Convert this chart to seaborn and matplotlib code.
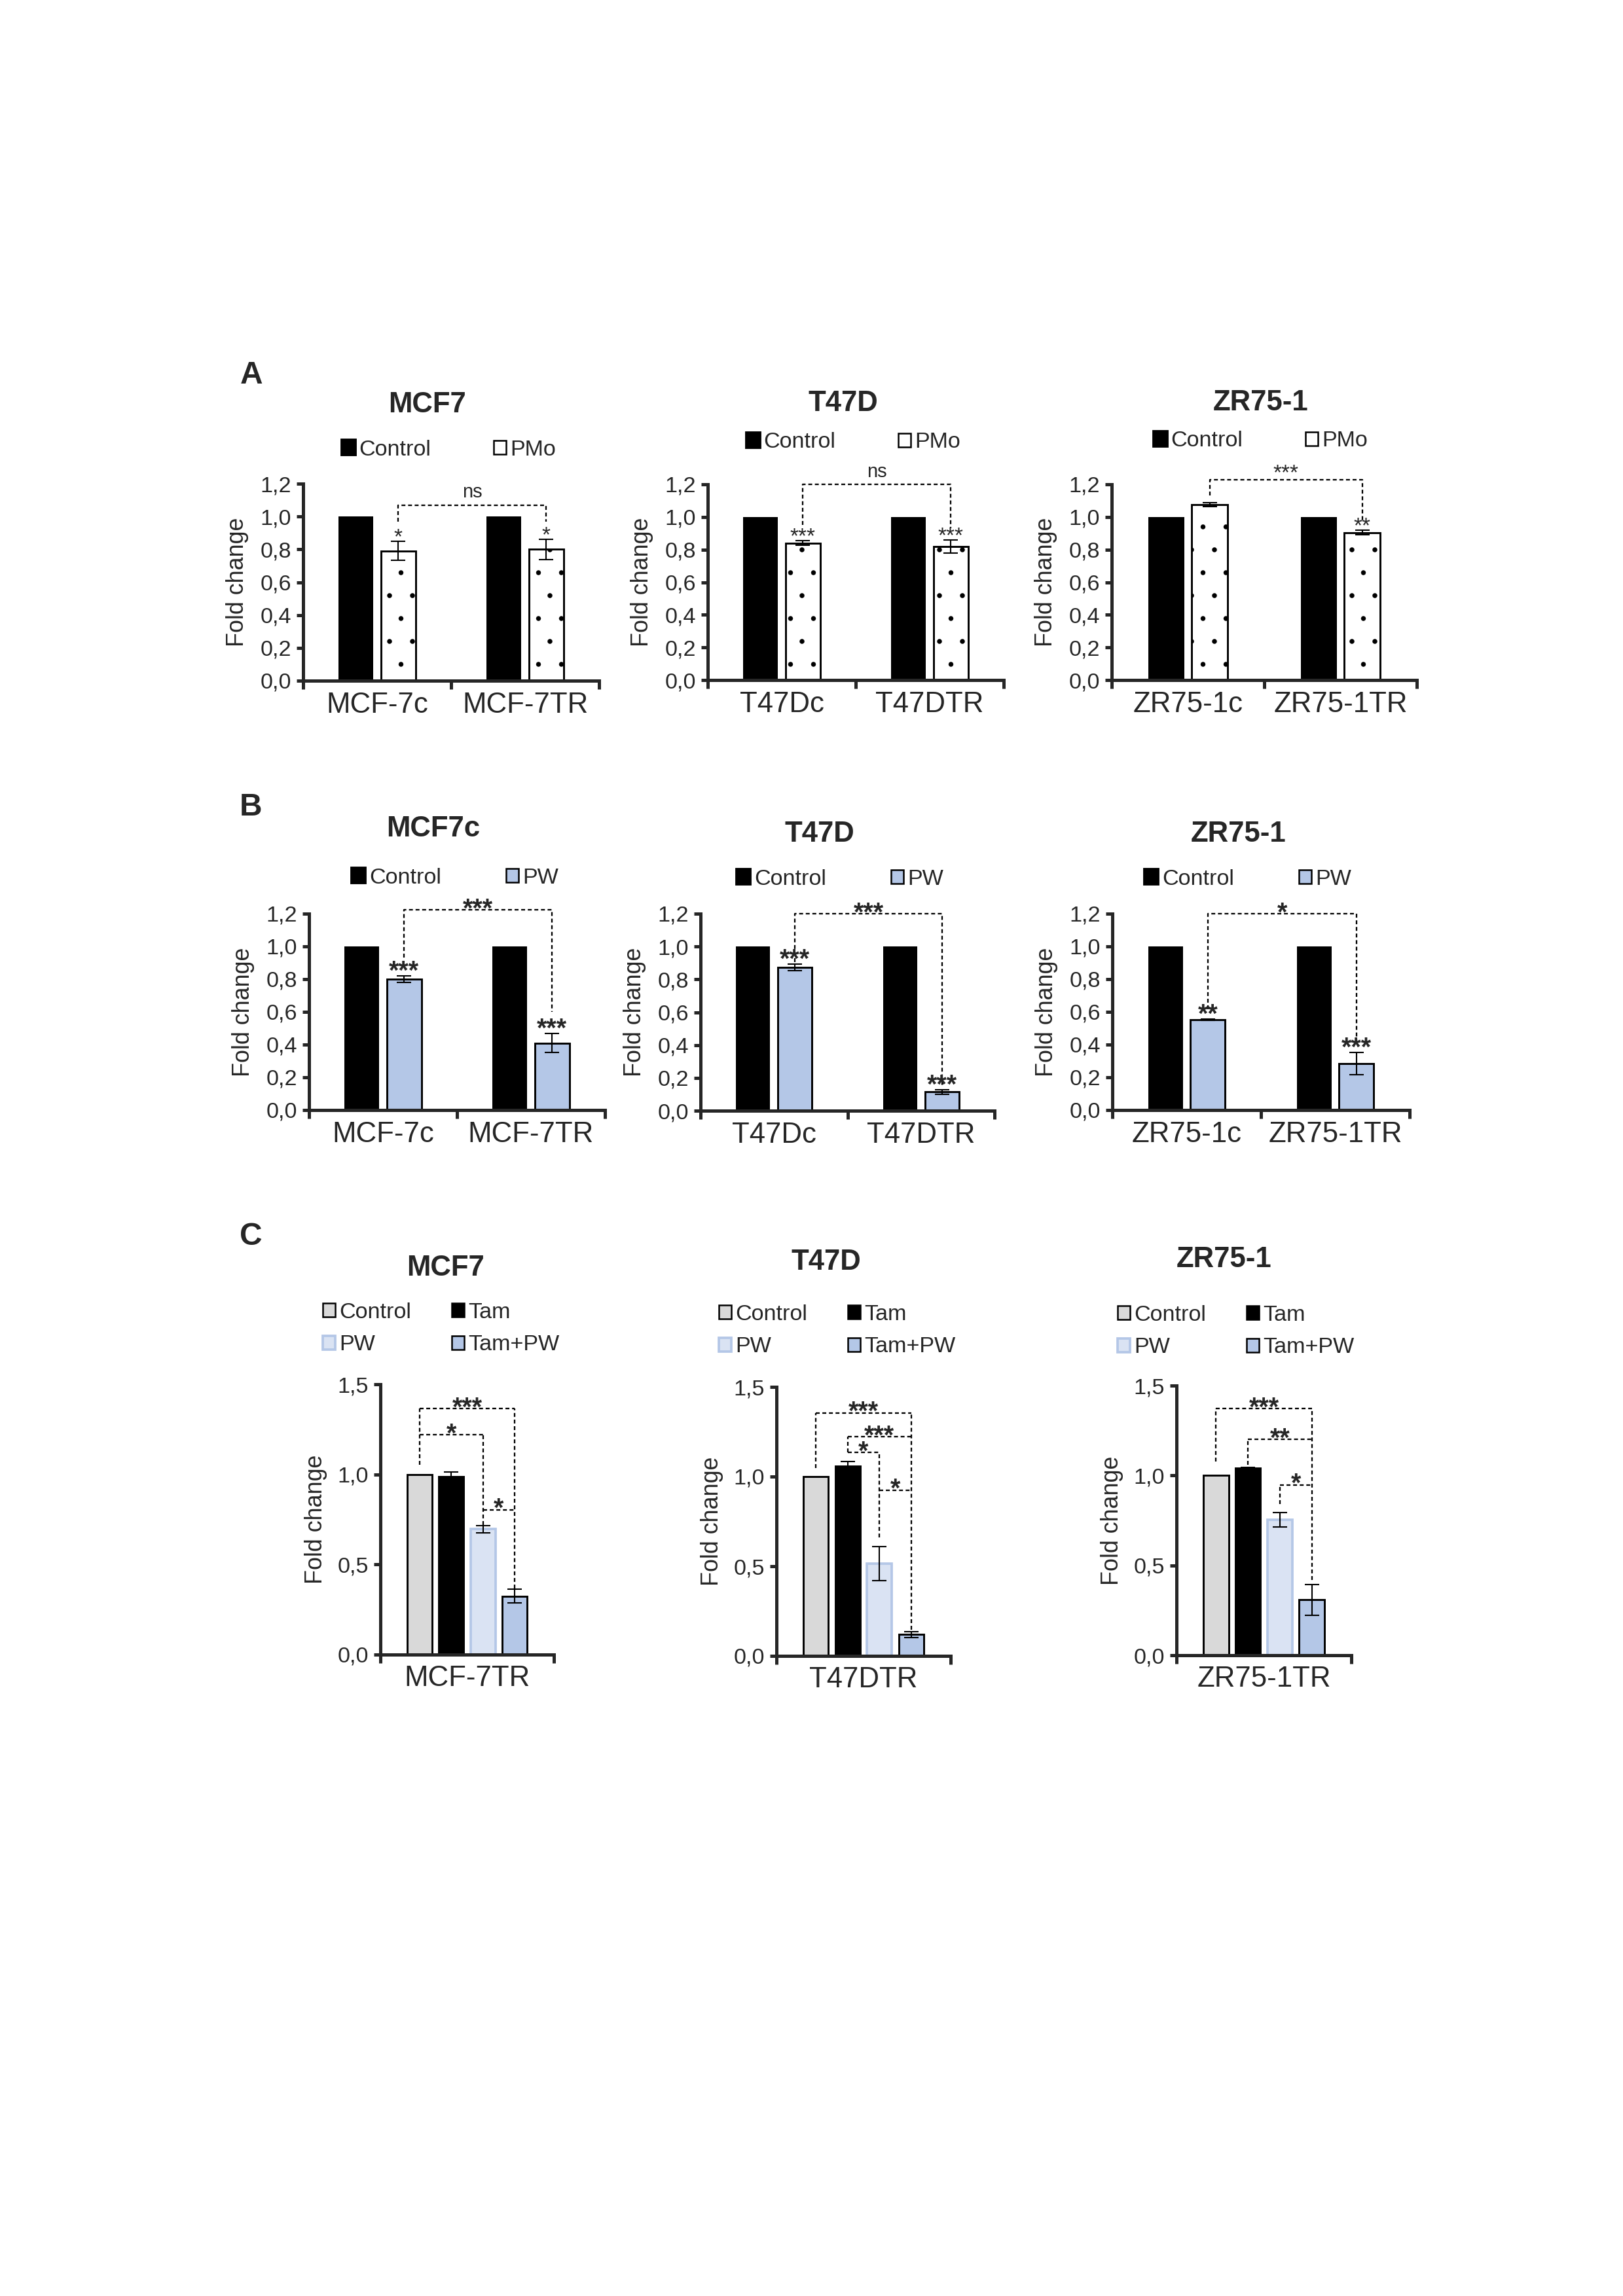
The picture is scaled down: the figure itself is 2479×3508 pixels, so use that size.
import numpy as np
import pandas as pd
import matplotlib
matplotlib.use("Agg")
import matplotlib.pyplot as plt
from matplotlib.patches import Patch
import seaborn as sns

# taille de la page en pixels ; dpi eleve pour un motif de points plus large
W, H = 2479, 3508
DPI = 420
S = 300 / DPI          # toutes les tailles sont donnees "a 300 dpi"


def P(v):
    return v * S


# ---- Panel A : Control vs PMo ----
A_titles = ["MCF7", "T47D", "ZR75-1"]
A_cells = [["MCF-7c", "MCF-7TR"], ["T47Dc", "T47DTR"], ["ZR75-1c", "ZR75-1TR"]]
A_control = [[1.0, 1.0], [1.0, 1.0], [1.0, 1.0]]
A_pmo = [[0.79, 0.80], [0.84, 0.82], [1.075, 0.905]]
A_pmo_err = [[0.058, 0.061], [0.014, 0.04], [0.012, 0.016]]
A_stars = [["*", "*"], ["***", "***"], ["", "**"]]
A_bracket_label = ["ns", "ns", "***"]
A_bracket_y = [1.07, 1.20, 1.23]
A_bracket_legs = [[0.97, 0.97], [0.95, 0.93], [1.13, 0.97]]

# ---- Panel B : Control vs PW ----
B_titles = ["MCF7c", "T47D", "ZR75-1"]
B_cells = [["MCF-7c", "MCF-7TR"], ["T47Dc", "T47DTR"], ["ZR75-1c", "ZR75-1TR"]]
B_control = [[1.0, 1.0], [1.0, 1.0], [1.0, 1.0]]
B_pw = [[0.80, 0.41], [0.872, 0.114], [0.553, 0.284]]
B_pw_err = [[0.02, 0.058], [0.02, 0.014], [0.005, 0.068]]
B_stars = [["***", "***"], ["***", "***"], ["**", "***"]]
B_bracket_label = ["***", "***", "*"]
B_bracket_y = [1.224, 1.20, 1.20]
B_bracket_legs = [[0.934, 0.60], [0.905, 0.15], [0.616, 0.40]]

# ---- Panel C : Control / Tam / PW / Tam+PW ----
C_titles = ["MCF7", "T47D", "ZR75-1"]
C_cells = ["MCF-7TR", "T47DTR", "ZR75-1TR"]
C_groups = ["Control", "Tam", "PW", "Tam+PW"]
C_means = [[1.0, 0.987, 0.696, 0.325],
           [1.0, 1.058, 0.515, 0.12],
           [1.0, 1.041, 0.755, 0.309]]
C_err = [[0.0, 0.027, 0.02, 0.038],
         [0.0, 0.027, 0.095, 0.016],
         [0.0, 0.005, 0.04, 0.086]]
# (barre gauche, barre droite, hauteur, texte)
C_brackets = [[(0, 3, 1.364, "***"), (0, 2, 1.22, "*"), (2, 3, 0.804, "*")],
              [(0, 3, 1.355, "***"), (1, 3, 1.222, "***"), (1, 2, 1.134, "*"), (2, 3, 0.925, "*")],
              [(0, 3, 1.373, "***"), (1, 3, 1.20, "**"), (2, 3, 0.948, "*")]]
C_legs = [[1.054, np.nan, 0.72, 0.367],
          [1.049, 1.134, 0.66, 0.147],
          [1.076, 1.06, 0.84, 0.42]]

# ---- mise en page (pixels de la page) ----
A_boxes = [(463, 739, 915, 1040), (1081, 740, 1533, 1039), (1698, 740, 2164, 1039)]
A_title_pos = [(652, 618), (1288, 617), (1926, 615)]
A_leg_pos = [(686, 687), (1304, 676), (1926, 674)]
B_boxes = [(472, 1396, 924, 1696), (1070, 1396, 1519, 1697), (1699, 1396, 2153, 1696)]
B_title_pos = [(662, 1266), (1252, 1275), (1892, 1274)]
B_leg_pos = [(696, 1341), (1284, 1343), (1907, 1343)]
C_boxes = [(581, 2115, 846, 2528), (1186, 2119, 1452, 2530), (1797, 2117, 2064, 2529)]
C_title_pos = [(681, 1937), (1262, 1928), (1870, 1925)]
C_leg_pos = [(674, 2030), (1279, 2033), (1888, 2034)]
letters = [("A", 384, 574), ("B", 383, 1234), ("C", 383, 1890)]

PW_BLUE = "#B4C7E7"
PW_LIGHT = "#DAE3F3"
CTRL_GRAY = "#D9D9D9"
DASH = (0, (2.6, 1.8))

sns.set_style("ticks")
plt.rcParams["font.family"] = ["Liberation Sans", "DejaVu Sans"]
plt.rcParams["hatch.linewidth"] = P(0.1)

fig = plt.figure(figsize=(W / DPI, H / DPI), dpi=DPI)


def fpos(x, y):
    return x / W, 1 - y / H


def make_axes(b):
    x0, y0, x1, y1 = b
    return fig.add_axes([x0 / W, 1 - y1 / H, (x1 - x0) / W, (y1 - y0) / H])


def style_axes(ax, ymax, step, tick_size, lab_pad, ytick_len):
    sns.despine(ax=ax)
    for s in ["left", "bottom"]:
        ax.spines[s].set_linewidth(P(1.2))
    ticks = np.round(np.arange(0, ymax + 1e-9, step), 2)
    ax.set_ylim(0, ymax)
    ax.set_yticks(ticks)
    ax.set_yticklabels([f"{t:.1f}".replace(".", ",") for t in ticks],
                       fontsize=P(tick_size))
    ax.tick_params(axis="y", length=P(ytick_len), width=P(1.2), pad=P(2))
    ax.set_ylabel("Fold change", fontsize=P(8.6), labelpad=P(lab_pad))
    ax.set_xlabel("")


def two_group_panel(ax, cells, ctrl, trt, err, trt_name, trt_color, hatch,
                    stars, star_weight, star_size, star_dy,
                    br_y, br_legs, br_label, br_weight, br_size, br_dy):
    df = pd.DataFrame({
        "cell": cells * 2,
        "treatment": ["Control"] * len(cells) + [trt_name] * len(cells),
        "value": list(ctrl) + list(trt),
    })
    sns.barplot(data=df, x="cell", y="value", hue="treatment",
                hue_order=["Control", trt_name], palette=["black", trt_color],
                width=0.57, gap=0.18, saturation=1, errorbar=None,
                legend=False, ax=ax, linewidth=0)
    bars_trt = list(ax.containers[1])
    for p in bars_trt:
        p.set_edgecolor("black")
        p.set_linewidth(P(0.7))
        if hatch:
            p.set_hatch(hatch)
    ax.set_xlim(-0.5, 1.5)
    centres = []
    for j, p in enumerate(bars_trt):
        xc = p.get_x() + p.get_width() / 2
        centres.append(xc)
        top = p.get_height() + err[j]
        ax.errorbar(xc, p.get_height(), yerr=err[j], color="black",
                    elinewidth=P(0.5), capsize=P(2.6), capthick=P(0.5),
                    clip_on=False)
        if stars[j]:
            ax.annotate(stars[j], (xc, top), xytext=(0, P(star_dy)),
                        textcoords="offset points", ha="center", va="baseline",
                        fontsize=P(star_size), fontweight=star_weight,
                        annotation_clip=False)
    # crochet de comparaison
    xl, xr = centres
    ax.plot([xl, xl, xr, xr], [br_legs[0], br_y, br_y, br_legs[1]],
            ls=DASH, color="black", lw=P(0.55), clip_on=False)
    ax.annotate(br_label, ((xl + xr) / 2, br_y), xytext=(0, P(br_dy)),
                textcoords="offset points", ha="center", va="baseline",
                fontsize=P(br_size), fontweight=br_weight, annotation_clip=False)
    style_axes(ax, 1.2, 0.2, 8.2, 4.2, 2.4)
    ax.set_xticks([0, 1])
    ax.set_xticklabels(cells, fontsize=P(10.5))
    ax.set_xticks([-0.5, 0.5, 1.5], minor=True)
    ax.tick_params(axis="x", which="major", length=0, pad=P(4.0))
    ax.tick_params(axis="x", which="minor", length=P(3), width=P(1.2))


# ---- Panel A ----
for i in range(3):
    ax = make_axes(A_boxes[i])
    two_group_panel(ax, A_cells[i], A_control[i], A_pmo[i], A_pmo_err[i],
                    "PMo", "white", "..", A_stars[i], "normal", 8, -0.8,
                    A_bracket_y[i], A_bracket_legs[i], A_bracket_label[i],
                    "normal", 7 if A_bracket_label[i] == "ns" else 8,
                    2.7 if A_bracket_label[i] == "ns" else 0.0)
    fig.text(*fpos(*A_title_pos[i]), A_titles[i], ha="center", va="center",
             fontweight="bold", fontsize=P(10.5))
    handles = [Patch(facecolor="black", edgecolor="black", label="Control"),
               Patch(facecolor="white", edgecolor="black", lw=P(0.6), label="PMo")]
    ax.legend(handles=handles, loc="center", bbox_to_anchor=fpos(*A_leg_pos[i]),
              bbox_transform=fig.transFigure, ncol=2, frameon=False,
              handlelength=0.55, handleheight=0.55, handletextpad=0.2,
              columnspacing=2.8, prop={"size": P(8.2)})

# ---- Panel B ----
for i in range(3):
    ax = make_axes(B_boxes[i])
    two_group_panel(ax, B_cells[i], B_control[i], B_pw[i], B_pw_err[i],
                    "PW", PW_BLUE, None, B_stars[i], "bold", 9.5, -1.2,
                    B_bracket_y[i], B_bracket_legs[i], B_bracket_label[i],
                    "bold", 9.5, -2.6)
    fig.text(*fpos(*B_title_pos[i]), B_titles[i], ha="center", va="center",
             fontweight="bold", fontsize=P(10.5))
    handles = [Patch(facecolor="black", edgecolor="black", label="Control"),
               Patch(facecolor=PW_BLUE, edgecolor="black", lw=P(0.6), label="PW")]
    ax.legend(handles=handles, loc="center", bbox_to_anchor=fpos(*B_leg_pos[i]),
              bbox_transform=fig.transFigure, ncol=2, frameon=False,
              handlelength=0.55, handleheight=0.55, handletextpad=0.2,
              columnspacing=2.9, prop={"size": P(8.2)})

# ---- Panel C ----
C_face = [CTRL_GRAY, "black", PW_LIGHT, PW_BLUE]
C_edge = ["black", "black", PW_BLUE, "black"]
for i in range(3):
    ax = make_axes(C_boxes[i])
    df = pd.DataFrame({"cell": [C_cells[i]] * 4, "treatment": C_groups,
                       "value": C_means[i]})
    sns.barplot(data=df, x="cell", y="value", hue="treatment",
                hue_order=C_groups, palette=C_face, width=0.73, gap=0.21,
                saturation=1, errorbar=None, legend=False, ax=ax)
    barres = [cont[0] for cont in ax.containers]
    centres = []
    for g, p in enumerate(barres):
        p.set_edgecolor(C_edge[g])
        p.set_linewidth(P(0.9) if g == 2 else P(0.7))
        xc = p.get_x() + p.get_width() / 2
        centres.append(xc)
        if C_err[i][g] > 0:
            ax.errorbar(xc, p.get_height(), yerr=C_err[i][g], color="black",
                        elinewidth=P(0.5), capsize=P(2.6), capthick=P(0.5))
    ax.set_xlim(-0.5, 0.5)
    # crochets
    for g in range(4):
        ys = [b[2] for b in C_brackets[i] if g in (b[0], b[1])]
        if ys and not np.isnan(C_legs[i][g]):
            ax.plot([centres[g], centres[g]], [C_legs[i][g], max(ys)],
                    ls=DASH, color="black", lw=P(0.55), clip_on=False)
    for a, b, y, lab in C_brackets[i]:
        ax.plot([centres[a], centres[b]], [y, y], ls=DASH,
                color="black", lw=P(0.55), clip_on=False)
        ax.annotate(lab, ((centres[a] + centres[b]) / 2, y), xytext=(0, P(-2.5)),
                    textcoords="offset points", ha="center", va="baseline",
                    fontsize=P(9.5), fontweight="bold", annotation_clip=False)
    style_axes(ax, 1.5, 0.5, 8.2, 3.8, 2.3)
    ax.set_xticks([0])
    ax.set_xticklabels([C_cells[i]], fontsize=P(10.5))
    ax.set_xticks([-0.5, 0.5], minor=True)
    ax.tick_params(axis="x", which="major", length=0, pad=P(3.9))
    ax.tick_params(axis="x", which="minor", length=P(3), width=P(1.2))
    fig.text(*fpos(*C_title_pos[i]), C_titles[i], ha="center", va="center",
             fontweight="bold", fontsize=P(10.5))
    handles = [Patch(facecolor=C_face[g], edgecolor=C_edge[g],
                     lw=P(0.9) if g == 2 else P(0.6), label=C_groups[g])
               for g in [0, 2, 1, 3]]
    ax.legend(handles=handles, loc="center", bbox_to_anchor=fpos(*C_leg_pos[i]),
              bbox_transform=fig.transFigure, ncol=2, frameon=False,
              handlelength=0.55, handleheight=0.55, handletextpad=0.2,
              columnspacing=1.8, labelspacing=0.55, prop={"size": P(8.2)})

for lettre, x, y in letters:
    fig.text(*fpos(x, y), lettre, ha="center", va="center",
             fontweight="bold", fontsize=P(11.5))

fig.savefig("out.png", dpi=DPI, facecolor="white")
